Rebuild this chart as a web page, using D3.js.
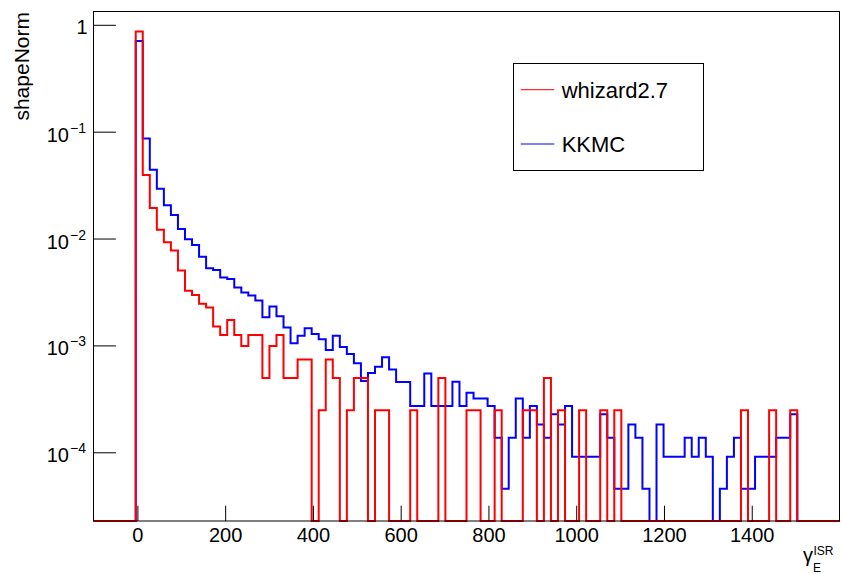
<!DOCTYPE html>
<html>
<head>
<meta charset="utf-8">
<script src="https://cdn.jsdelivr.net/npm/d3@7"></script>
<style>
  body { margin: 0; background: #fff; }
  svg { font-family: "Liberation Sans", Arial, Helvetica, sans-serif; }
</style>
</head>
<body>
<svg width="842" height="574"></svg>
<script>
// histogram binning (106 bins from -100 to 1600)
const binLow = -100;
const binHigh = 1600;
const nBins = 106;

// whizard2.7, normalised bin contents
const whizard = [
  0, 0, 0, 0, 0, 0, 0.867, 0.0394, 0.0193, 0.0121,
  0.00925, 0.00773, 0.00501, 0.00324, 0.00297, 0.00245, 0.00226, 0.00150, 0.00125, 0.00173,
  0.00125, 0.00099, 0.00125, 0.00125, 0.000495, 0.00099, 0.00125, 0.000495, 0.000495, 0.00074,
  0.00074, 0, 0.000248, 0.00074, 0.000495, 0, 0.000248, 0.000495, 0.000495, 0,
  0.000248, 0.000248, 0, 0, 0, 0.000248, 0, 0, 0, 0.000495,
  0, 0, 0, 0.000248, 0.000248, 0, 0, 0.000248, 0, 0,
  0, 0.000248, 0.000248, 0, 0.000495, 0, 0.000248, 0, 0, 0.000248,
  0, 0, 0.000248, 0, 0.000248, 0, 0, 0, 0, 0,
  0, 0, 0, 0, 0, 0, 0, 0, 0, 0,
  0, 0, 0.000248, 0, 0, 0, 0.000248, 0, 0, 0.000248,
  0, 0, 0, 0, 0, 0
];

// KKMC, normalised bin contents
const kkmc = [
  0, 0, 0, 0, 0, 0, 0.705, 0.0863, 0.0440, 0.0293,
  0.0205, 0.0166, 0.01225, 0.00983, 0.00869, 0.00674, 0.00528, 0.00509, 0.00431, 0.00419,
  0.00348, 0.00312, 0.00293, 0.00263, 0.00183, 0.00231, 0.00187, 0.00147, 0.00105, 0.00123,
  0.00145, 0.00128, 0.00114, 0.000908, 0.00123, 0.000968, 0.000829, 0.000681, 0.000465, 0.000553,
  0.000633, 0.000775, 0.000596, 0.000455, 0.000455, 0.000271, 0.000271, 0.000547, 0.000271, 0.000271,
  0.000271, 0.000457, 0.000271, 0.000361, 0.000319, 0.000319, 0.000271, 0.000137, 0.0000455, 0.000137,
  0.000319, 0.000137, 0.000271, 0.000182, 0.000137, 0.000227, 0.000182, 0.000271, 0.000091, 0.000091,
  0.000091, 0.000091, 0.000227, 0.000137, 0.0000455, 0.0000455, 0.000182, 0.000137, 0.0000455, 0,
  0.000182, 0.000091, 0.000091, 0.000091, 0.000137, 0.000091, 0.000137, 0.000091, 0, 0.0000455,
  0.000091, 0.000137, 0.0000455, 0.0000455, 0.000091, 0.000091, 0.000091, 0.000137, 0.000137, 0.000227,
  0, 0, 0, 0, 0, 0
];

// axis ticks
const xMajorTicks = [0, 200, 400, 600, 800, 1000, 1200, 1400];
const xMinorTicks = d3.range(-50, 1600, 50);
const yMajorTicks = [1e-4, 1e-3, 1e-2, 1e-1, 1];
const yExponents = [-4, -3, -2, -1, 0];

const yDomain = [2.275e-5, 1.332];

HistPlot = function() {
  this.initVis();
};

HistPlot.prototype.initVis = function() {
  let vis = this;

  vis.svg = d3.select("svg");
  vis.left = 93.5;
  vis.right = 839.5;
  vis.top = 11.5;
  vis.bottom = 521;

  vis.x = d3.scaleLinear().domain([binLow, binHigh]).range([vis.left, vis.right]);
  vis.y = d3.scaleLog().domain(yDomain).range([vis.bottom, vis.top]);

  vis.edges = d3.range(nBins + 1).map(function(i) {
    return binLow + (i * (binHigh - binLow)) / nBins;
  });

  vis.renderVis();
};

HistPlot.prototype.histPath = function(values) {
  let vis = this;
  let pts = values.map(function(v, i) {
    return [vis.edges[i], v];
  });
  pts.push([vis.edges[nBins], values[nBins - 1]]);

  let line = d3
    .line()
    .curve(d3.curveStepAfter)
    .x(function(d) { return vis.x(d[0]); })
    .y(function(d) { return d[1] > 0 ? vis.y(d[1]) : vis.bottom; });

  return line(pts);
};

HistPlot.prototype.renderVis = function() {
  let vis = this;
  let frameH = vis.bottom - vis.top;
  let frameW = vis.right - vis.left;

  // histograms (KKMC below, whizard on top)
  vis.svg
    .append("path")
    .attr("d", vis.histPath(kkmc))
    .attr("fill", "none")
    .attr("stroke", "#0000ff")
    .attr("stroke-width", 2);

  vis.svg
    .append("path")
    .attr("d", vis.histPath(whizard))
    .attr("fill", "none")
    .attr("stroke", "#ff0000")
    .attr("stroke-width", 2);

  // frame
  vis.svg
    .append("rect")
    .attr("x", vis.left)
    .attr("y", vis.top)
    .attr("width", frameW)
    .attr("height", frameH)
    .attr("fill", "none")
    .attr("stroke", "#000")
    .attr("stroke-width", 1);

  // x axis
  let xg = vis.svg.append("g").attr("transform", "translate(0," + vis.bottom + ")");
  xg.call(d3.axisBottom(vis.x).tickValues(xMinorTicks).tickSize(-7.7).tickFormat(""));
  xg.call(d3.axisBottom(vis.x).tickValues(xMajorTicks).tickSize(-15.3).tickFormat(d3.format("d")));
  xg.select(".domain").remove();
  xg.selectAll(".tick line").attr("stroke", "#000").attr("stroke-width", 1);
  xg.selectAll(".tick text")
    .attr("y", 21.3)
    .attr("dy", null)
    .attr("font-size", "20px")
    .attr("fill", "#000");

  // y axis
  let minors = [];
  [-5, -4, -3, -2, -1].forEach(function(e) {
    for (let m = 2; m <= 9; m++) {
      let v = m * Math.pow(10, e);
      if (v > yDomain[0] && v < yDomain[1]) minors.push(v);
    }
  });
  let yg = vis.svg.append("g").attr("transform", "translate(" + vis.left + ",0)");
  yg.call(d3.axisLeft(vis.y).tickValues(minors).tickSize(-11.2).tickFormat(""));
  yg.call(d3.axisLeft(vis.y).tickValues(yMajorTicks).tickSize(-22.4).tickFormat(""));
  yg.select(".domain").remove();
  yg.selectAll(".tick line").attr("stroke", "#000").attr("stroke-width", 1);

  // y labels as 10^n
  yMajorTicks.forEach(function(v, i) {
    let ty = vis.y(v);
    if (yExponents[i] === 0) {
      vis.svg.append("text")
        .attr("x", 87.5).attr("y", ty + 9)
        .attr("text-anchor", "end")
        .attr("font-size", "20px")
        .text("1");
    } else {
      vis.svg.append("text")
        .attr("x", 69).attr("y", ty + 10)
        .attr("text-anchor", "end")
        .attr("font-size", "20px")
        .text("10");
      vis.svg.append("text")
        .attr("x", 70).attr("y", ty + 1)
        .attr("text-anchor", "start")
        .attr("font-size", "14px")
        .text("\u2212" + Math.abs(yExponents[i]));
    }
  });

  // axis titles
  vis.svg.append("text")
    .attr("transform", "translate(29,12) rotate(-90)")
    .attr("text-anchor", "end")
    .attr("font-size", "21px")
    .text("shapeNorm");

  let xt = vis.svg.append("g");
  xt.append("text").attr("x", 803).attr("y", 562).attr("font-size", "20px").text("\u03b3");
  xt.append("text").attr("x", 813).attr("y", 572).attr("font-size", "12px").text("E");
  xt.append("text").attr("x", 813.5).attr("y", 555).attr("font-size", "12px").text("ISR");

  // legend
  let lg = vis.svg.append("g");
  lg.append("rect")
    .attr("x", 513.5).attr("y", 63.5)
    .attr("width", 190).attr("height", 107)
    .attr("fill", "#fff")
    .attr("stroke", "#000")
    .attr("stroke-width", 1);

  let entries = [
    { name: "whizard2.7", color: "#ff0000", y: 89.7 },
    { name: "KKMC", color: "#0000ff", y: 144 }
  ];
  entries.forEach(function(e) {
    lg.append("line")
      .attr("x1", 520.7).attr("x2", 554.3)
      .attr("y1", e.y).attr("y2", e.y)
      .attr("stroke", e.color)
      .attr("stroke-width", 1);
    lg.append("text")
      .attr("x", 561.7).attr("y", e.y + 8)
      .attr("font-size", "22px")
      .text(e.name);
  });
};

new HistPlot();
</script>
</body>
</html>
